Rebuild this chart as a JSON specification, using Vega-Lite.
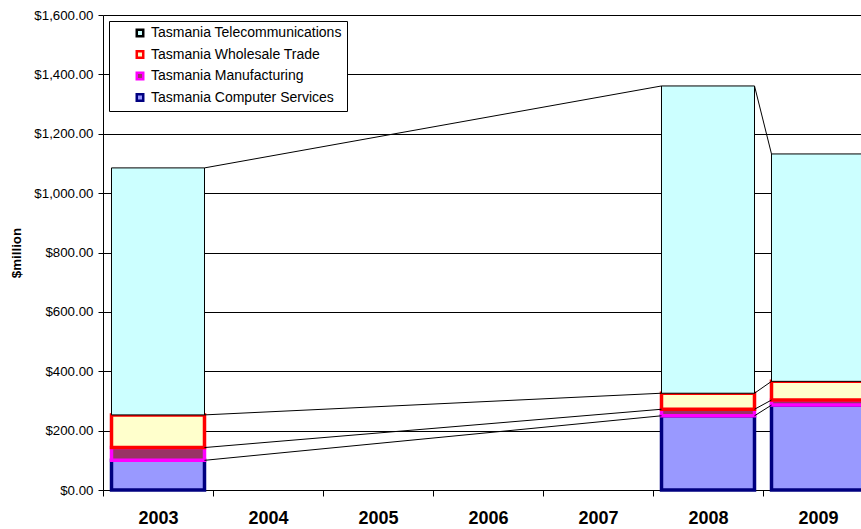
{
  "$schema": "https://vega.github.io/schema/vega-lite/v6.json",
  "autosize": {"type": "none"},
  "padding": {"left": 103, "top": 15, "right": 0, "bottom": 39},
  "width": 758,
  "height": 475,
  "background": "white",
  "config": {
    "font": "Liberation Sans, Arial, sans-serif",
    "view": {"stroke": null},
    "axis": {"labelColor": "black", "domainColor": "black", "tickColor": "black", "titleColor": "black"}
  },
  "data": {
    "values": [
      {"year": "2003", "series": "Tasmania Computer Services", "value": 100},
      {"year": "2003", "series": "Tasmania Manufacturing", "value": 43},
      {"year": "2003", "series": "Tasmania Wholesale Trade", "value": 110},
      {"year": "2003", "series": "Tasmania Telecommunications", "value": 832},
      {"year": "2008", "series": "Tasmania Computer Services", "value": 250},
      {"year": "2008", "series": "Tasmania Manufacturing", "value": 22},
      {"year": "2008", "series": "Tasmania Wholesale Trade", "value": 54},
      {"year": "2008", "series": "Tasmania Telecommunications", "value": 1035},
      {"year": "2009", "series": "Tasmania Computer Services", "value": 286},
      {"year": "2009", "series": "Tasmania Manufacturing", "value": 17},
      {"year": "2009", "series": "Tasmania Wholesale Trade", "value": 63},
      {"year": "2009", "series": "Tasmania Telecommunications", "value": 766}
    ]
  },
  "transform": [
    {"calculate": "indexof(['Tasmania Computer Services', 'Tasmania Manufacturing', 'Tasmania Wholesale Trade', 'Tasmania Telecommunications'], datum.series)", "as": "rank"},
    {"stack": "value", "groupby": ["year"], "sort": [{"field": "rank", "order": "ascending"}], "as": ["lo", "hi"]}
  ],
  "layer": [
    {
      "mark": {"type": "bar", "width": {"band": 0.8455}},
      "encoding": {
        "x": {
          "field": "year", "type": "ordinal",
          "scale": {"domain": ["2003", "2004", "2005", "2006", "2007", "2008", "2009"], "range": [0, 770], "paddingInner": 0, "paddingOuter": 0},
          "axis": {"title": null, "labelAngle": 0, "tickBand": "extent", "tickSize": 6, "labelPadding": 13, "labelFontSize": 18, "labelFontWeight": "bold", "domainWidth": 1, "tickWidth": 1}
        },
        "y": {
          "field": "lo", "type": "quantitative",
          "scale": {"domain": [0, 1600], "nice": false},
          "axis": {
            "title": "$million", "values": [0, 200, 400, 600, 800, 1000, 1200, 1400, 1600], "format": "$,.2f",
            "grid": true, "gridColor": "black", "gridWidth": 1, "tickSize": 5, "labelPadding": 5, "labelFontSize": 13.3,
            "titleFontSize": 13.3, "titleFontWeight": "bold", "titleX": -80, "titleY": 237.5, "titleAngle": -90, "titleBaseline": "bottom", "titleAlign": "center"
          }
        },
        "y2": {"field": "hi"},
        "fill": {
          "field": "series", "type": "nominal",
          "scale": {"domain": ["Tasmania Telecommunications", "Tasmania Wholesale Trade", "Tasmania Manufacturing", "Tasmania Computer Services"], "range": ["#CCFFFF", "#FFFFCC", "#993366", "#9999FF"]},
          "legend": {
            "orient": "none", "legendX": 6, "legendY": 6, "title": null, "fillColor": "white", "strokeColor": "black", "padding": 5,
            "symbolType": "square", "symbolSize": 42, "symbolStrokeWidth": 2.5, "symbolOffset": 19, "labelOffset": 4, "rowPadding": 3.5,
            "labelFontSize": 14, "labelColor": "black", "labelLimit": 0
          }
        },
        "stroke": {
          "field": "series", "type": "nominal",
          "scale": {"domain": ["Tasmania Telecommunications", "Tasmania Wholesale Trade", "Tasmania Manufacturing", "Tasmania Computer Services"], "range": ["#000000", "#FF0000", "#FF00FF", "#000080"]}
        },
        "strokeWidth": {
          "condition": {"test": "datum.series === 'Tasmania Telecommunications'", "value": 1},
          "value": 3.5
        }
      }
    },
    {
      "transform": [
        {"window": [{"op": "lead", "field": "hi", "as": "nextHi"}, {"op": "lead", "field": "year", "as": "nextYear"}], "groupby": ["series"], "sort": [{"field": "year", "order": "ascending"}]},
        {"filter": "datum.nextYear != null"}
      ],
      "mark": {"type": "rule", "color": "black", "strokeWidth": 1},
      "encoding": {
        "x": {"field": "year", "type": "ordinal", "bandPosition": 0.92275},
        "x2": {"field": "nextYear", "bandPosition": 0.07725},
        "y": {"field": "hi", "type": "quantitative"},
        "y2": {"field": "nextHi"}
      }
    }
  ]
}
